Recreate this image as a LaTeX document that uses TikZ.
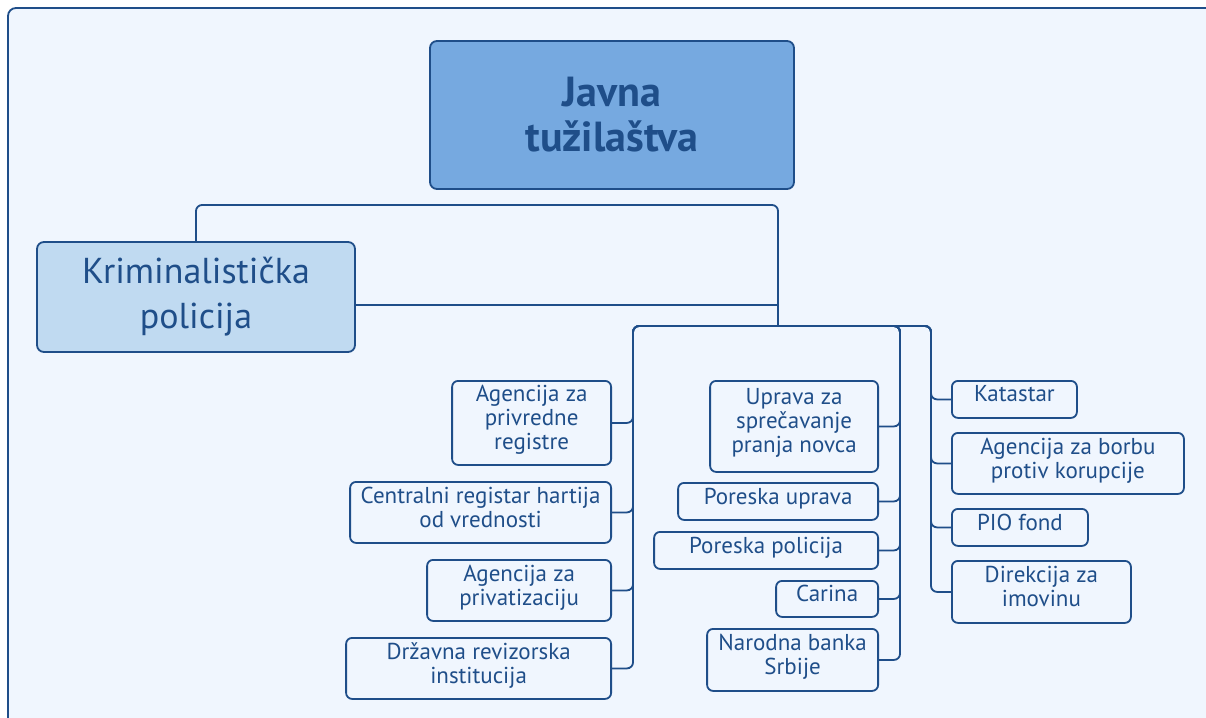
\documentclass[tikz,border=0pt]{standalone}
\usepackage{fontspec}
\setmainfont{PT Sans}
\usetikzlibrary{positioning}
\definecolor{navy}{HTML}{1F4E89}
\definecolor{paleblue}{HTML}{F0F6FE}
\definecolor{topblue}{HTML}{76A9E0}
\definecolor{lightblue}{HTML}{C0DAF1}
\tikzstyle{root} = [rectangle, rounded corners=7, draw=navy, line width=1.8, fill=topblue, text=navy, align=center, font=\bfseries\fontsize{42}{45}\selectfont]
\tikzstyle{police} = [rectangle, rounded corners=7, draw=navy, line width=1.8, fill=lightblue, text=navy, align=center, font=\fontsize{36}{45}\selectfont]
\tikzstyle{agency} = [rectangle, rounded corners=6, draw=navy, line width=1.8, fill=paleblue, text=navy, align=center, inner sep=0, text depth=11, font=\fontsize{23}{24}\selectfont]
\tikzstyle{link} = [draw=navy, line width=1.8, rounded corners=6]

\begin{document}
\begin{tikzpicture}[x=1pt, y=-1pt]
			\useasboundingbox (0,0) rectangle (1206,717);
			\fill[white] (0,0) rectangle (1206,717);
			\clip (0,0) rectangle (1206,717);
			\draw[navy, line width=1.8, fill=paleblue, rounded corners=8] (8,8) rectangle (1240,760);

			\node[root, minimum width=364, minimum height=148] (tuz) at (612,115) {Javna\\tužilaštva};
			\node[police, minimum width=318, minimum height=110] (krim) at (196,297) {Kriminalistička\\policija};

			% left column
			\node[agency, anchor=north east, minimum width=159, minimum height=84] (apr) at (612,380) {Agencija za\\privredne\\registre};
			\node[agency, anchor=north east, minimum width=261, minimum height=61] (crhov) at (612,481) {Centralni registar hartija\\od vrednosti};
			\node[agency, anchor=north east, minimum width=184, minimum height=61] (apriv) at (612,559) {Agencija za\\privatizaciju};
			\node[agency, anchor=north east, minimum width=265, minimum height=61] (dri) at (612,637) {Državna revizorska\\institucija};

			% middle column
			\node[agency, anchor=north east, minimum width=168, minimum height=91] (uspn) at (879,380) {Uprava za\\sprečavanje\\pranja novca};
			\node[agency, anchor=north east, minimum width=200, minimum height=37] (pu) at (879,482) {Poreska uprava};
			\node[agency, anchor=north east, minimum width=224, minimum height=37] (pp) at (879,531) {Poreska policija};
			\node[agency, anchor=north east, minimum width=102, minimum height=36] (carina) at (879,580) {Carina};
			\node[agency, anchor=north east, minimum width=171, minimum height=62] (nbs) at (879,628) {Narodna banka\\Srbije};

			% right column
			\node[agency, anchor=north west, minimum width=125, minimum height=37] (kat) at (951,380) {Katastar};
			\node[agency, anchor=north west, minimum width=232, minimum height=61] (acak) at (951,432) {Agencija za borbu\\protiv korupcije};
			\node[agency, anchor=north west, minimum width=136, minimum height=37] (pio) at (951,508) {PIO fond};
			\node[agency, anchor=north west, minimum width=179, minimum height=62] (dir) at (951,560) {Direkcija za\\imovinu};

			\coordinate (bend) at (778,205);
			\coordinate (hub) at (778,326);

			\draw[link] (krim.north) |- (bend) -- (hub);
			\draw[link] ([yshift=-8]krim.east) -- ([yshift=-8]krim.east -| hub);

			\foreach \n in {apr,crhov,apriv,dri,uspn,pu,pp,carina,nbs}
				\draw[link] (hub) -| ([xshift=21]\n.east) -- (\n.east);
			\foreach \n in {kat,acak,pio,dir}
				\draw[link] (hub) -| ([xshift=-20]\n.west) -- (\n.west);
		\end{tikzpicture}
\end{document}
